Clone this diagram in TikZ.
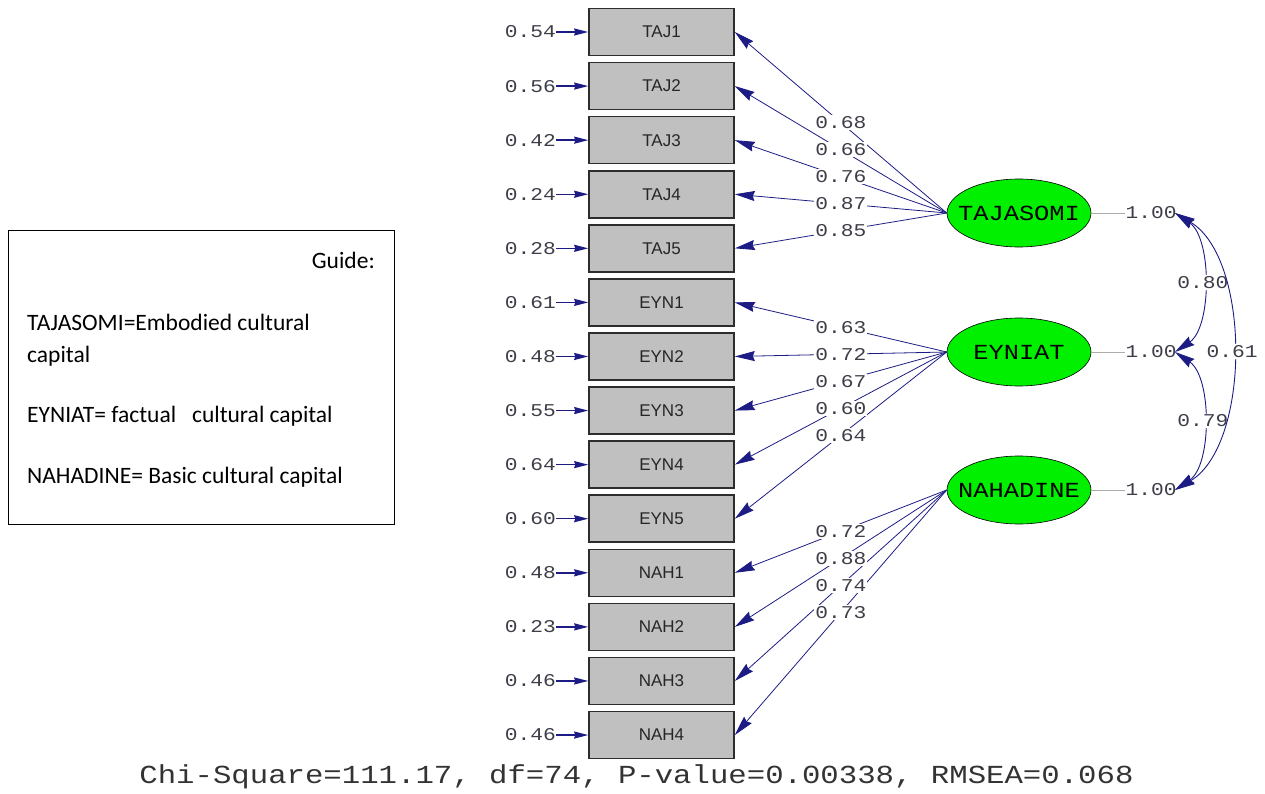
\documentclass[tikz,border=0pt]{standalone}
\usepackage{fontspec}
\setmainfont{Liberation Sans}
\newfontfamily\lisfont[FakeStretch=1.18]{Liberation Mono}
\newfontfamily\guidefont{Carlito}
\usetikzlibrary{arrows.meta,shapes.geometric}
\definecolor{lnavy}{RGB}{28,28,132}
\definecolor{boxgray}{RGB}{192,192,192}
\definecolor{boxedge}{RGB}{45,45,45}
\definecolor{txtgray}{RGB}{62,62,72}
\definecolor{lgreen}{RGB}{0,240,0}
\begin{document}
\begin{tikzpicture}[x=1pt,y=-1pt,
  obsbox/.style={draw=boxedge,line width=1.6pt,fill=boxgray,minimum width=145pt,minimum height=47pt,inner sep=0pt,font=\fontsize{17}{17}\selectfont,text=black!85},
  latent/.style={ellipse,draw=black,line width=0.6pt,fill=lgreen,minimum width=144pt,minimum height=68pt,inner xsep=-10pt,inner ysep=0pt,font=\lisfont\fontsize{21.5}{21.5}\selectfont},
  errlbl/.style={font=\lisfont\fontsize{18}{18}\selectfont,text=txtgray,inner sep=0pt,anchor=east},
  errarr/.style={draw=lnavy,line width=1.4pt,-{Stealth[length=14pt,width=7pt,inset=1pt]}},
  load/.style={draw=lnavy,line width=0.8pt,-{Stealth[length=20pt,width=10pt,inset=2pt]}},
  lbl/.style={fill=white,inner sep=1.2pt,font=\lisfont\fontsize{18}{18}\selectfont,text=txtgray},
  varlbl/.style={fill=white,inner sep=0pt,font=\lisfont\fontsize{18}{18}\selectfont,text=txtgray},
  varline/.style={draw=gray!65,line width=0.8pt},
  corr/.style={draw=lnavy,line width=0.9pt,{Stealth[length=20pt,width=10pt,inset=2pt]}-{Stealth[length=20pt,width=10pt,inset=2pt]}},
  guidetxt/.style={font=\guidefont\fontsize{23.5}{23.5}\selectfont,inner sep=0pt}
]
\useasboundingbox (0,0) rectangle (1265,794);

% observed boxes
\foreach \n/\lab [count=\i from 0] in {b1/TAJ1,b2/TAJ2,b3/TAJ3,b4/TAJ4,b5/TAJ5,b6/EYN1,b7/EYN2,b8/EYN3,b9/EYN4,b10/EYN5,b11/NAH1,b12/NAH2,b13/NAH3,b14/NAH4}
  \node[obsbox] (\n) at (661.5,{32+54.08*\i}) {\lab};

% error terms
\foreach \n/\v [count=\i from 0] in {b1/0.54,b2/0.56,b3/0.42,b4/0.24,b5/0.28,b6/0.61,b7/0.48,b8/0.55,b9/0.64,b10/0.60,b11/0.48,b12/0.23,b13/0.46,b14/0.46}
{
  \node[errlbl] (e\i) at (556,{32+54.08*\i}) {\v};
  \draw[errarr] (e\i.east) -- (\n.west);
}

% latent variables
\node[latent] (T) at (1019,213) {TAJASOMI};
\node[latent] (E) at (1019,352) {EYNIAT};
\node[latent] (N) at (1019,490) {NAHADINE};

% loadings
\foreach \b in {b1,b2,b3,b4,b5} \draw[load] (T.west) -- (\b.east);
\foreach \b in {b6,b7,b8,b9,b10} \draw[load] (E.west) -- (\b.east);
\foreach \b in {b11,b12,b13,b14} \draw[load] (N.west) -- (\b.east);
\foreach \b/\v in {b1/0.68,b2/0.66,b3/0.76,b4/0.87,b5/0.85}
  \path (T.west) -- node[lbl]{\v} (\b.east);
\foreach \b/\v in {b6/0.63,b7/0.72,b8/0.67,b9/0.60,b10/0.64}
  \path (E.west) -- node[lbl]{\v} (\b.east);
\foreach \b/\v in {b11/0.72,b12/0.88,b13/0.74,b14/0.73}
  \path (N.west) -- node[lbl]{\v} (\b.east);

% variances
\node[varlbl] (v1) at (1151,213) {1.00};
\node[varlbl] (v2) at (1151,352) {1.00};
\node[varlbl] (v3) at (1151,490) {1.00};
\draw[varline] (T.east) -- (v1.west);
\draw[varline] (E.east) -- (v2.west);
\draw[varline] (N.east) -- (v3.west);

% correlations
\coordinate (c1) at (1175,213);
\coordinate (c2) at (1175,352);
\coordinate (c3) at (1175,490);
\draw[corr] (c1) .. controls (1212,238) and (1212,327) .. node[lbl,pos=0.5]{0.80} (c2);
\draw[corr] (c3) .. controls (1212,465) and (1212,377) .. node[lbl,pos=0.5]{0.79} (c2);
\draw[corr] (c1) .. controls (1251,258) and (1251,445) .. node[lbl,pos=0.5]{0.61} (c3);

% fit statistics
\node[font=\lisfont\fontsize{26}{26}\selectfont,text=black!80,inner sep=0pt] (fit) at (636.5,777) {Chi-Square=111.17, df=74, P-value=0.00338, RMSEA=0.068};

% guide
\node[draw=black,line width=1pt,minimum width=386pt,minimum height=293pt,anchor=north west,inner sep=0pt] (guide) at (7.5,230.5) {};
\node[guidetxt,anchor=base east] (g0) at (375,268) {Guide:};
\node[guidetxt,anchor=base west] (g1) at (27,330) {TAJASOMI=Embodied cultural};
\node[guidetxt,anchor=base west] (g2) at (27,362) {capital};
\node[guidetxt,anchor=base west] (g3) at (27,422) {EYNIAT= factual \ \ cultural capital};
\node[guidetxt,anchor=base west] (g4) at (27,483) {NAHADINE= Basic cultural capital};
\end{tikzpicture}
\end{document}
